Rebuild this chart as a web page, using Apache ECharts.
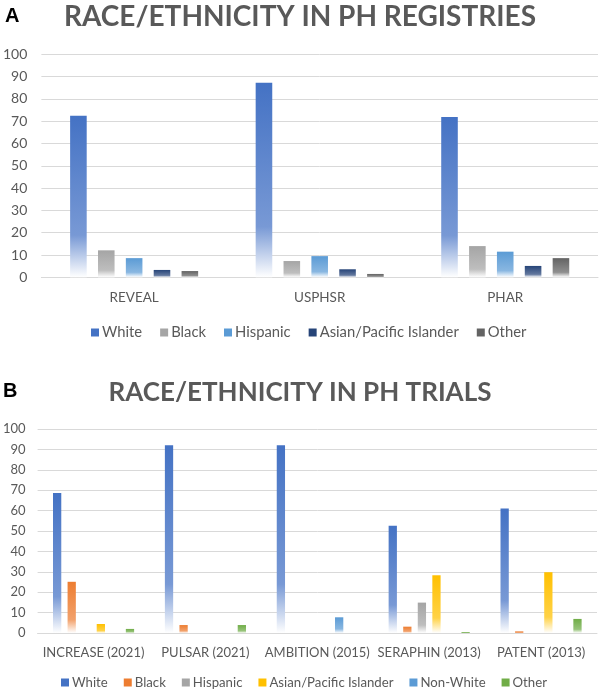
<!DOCTYPE html>
<html>
<head>
<meta charset="utf-8">
<script src="https://cdn.jsdelivr.net/npm/echarts@6/dist/echarts.min.js"></script>
<style>
html,body{margin:0;padding:0;background:#fff;}
#chart{width:600px;height:693px;}
</style>
</head>
<body>
<div id="chart"></div>
<script>
// ---- Panel A: registries ----
var regCategories = ['REVEAL', 'USPHSR', 'PHAR'];
var regWhite = [72.5, 87.3, 71.9];
var regBlack = [12.1, 7.3, 14.0];
var regHispanic = [8.6, 9.5, 11.5];
var regAsian = [3.3, 3.6, 5.1];
var regOther = [2.8, 1.5, 8.6];
var regNames = ['White', 'Black', 'Hispanic', 'Asian/Pacific Islander', 'Other'];
var regColors = ['#4472C4', '#A5A5A5', '#5B9BD5', '#264478', '#636363'];

// ---- Panel B: trials ----
var trialCategories = ['INCREASE (2021)', 'PULSAR (2021)', 'AMBITION (2015)', 'SERAPHIN (2013)', 'PATENT (2013)'];
var trialWhite = [68.6, 92, 92, 52.6, 61];
var trialBlack = [25.1, 3.9, null, 3.1, 0.8];
var trialHispanic = [null, null, null, 14.9, null];
var trialAsian = [4.4, null, null, 28.3, 29.8];
var trialNonWhite = [null, null, 7.7, null, null];
var trialOther = [2.0, 3.9, null, 0.5, 6.9];
var trialNames = ['White', 'Black', 'Hispanic', 'Asian/Pacific Islander', 'Non-White', 'Other'];
var trialColors = ['#4472C4', '#ED7D31', '#A5A5A5', '#FFC000', '#5B9BD5', '#70AD47'];

var yTicks = [0, 100, 10]; // min, max, interval

var FONT = 'Lato, Carlito, "Noto Sans", sans-serif';
var TXT = '#595959';
var GRID = '#D9D9D9';

function mix(hex, t) {
  var r = parseInt(hex.substr(1,2),16), g = parseInt(hex.substr(3,2),16), b = parseInt(hex.substr(5,2),16);
  r = Math.round(r + (255-r)*t); g = Math.round(g + (255-g)*t); b = Math.round(b + (255-b)*t);
  return 'rgb(' + r + ',' + g + ',' + b + ')';
}
function grad(c) {
  return {type:'linear', x:0, y:0, x2:0, y2:1, colorStops:[
    {offset:0, color:c},
    {offset:0.74, color:mix(c, 0.28)},
    {offset:1, color:'#ffffff'}
  ]};
}

var regData = [regWhite, regBlack, regHispanic, regAsian, regOther];
var trialData = [trialWhite, trialBlack, trialHispanic, trialAsian, trialNonWhite, trialOther];

var series = [];
regNames.forEach(function(n, i){
  series.push({type:'bar', name:n, xAxisIndex:0, yAxisIndex:0, data:regData[i],
    barGap:'68%', barCategoryGap:'31%',
    itemStyle:{color:grad(regColors[i])}, emphasis:{disabled:true}});
});
trialNames.forEach(function(n, i){
  series.push({type:'bar', name:n, xAxisIndex:1, yAxisIndex:1, data:trialData[i],
    barGap:'76%', barCategoryGap:'27.5%',
    itemStyle:{color:grad(trialColors[i])}, emphasis:{disabled:true}});
});

function yAxis(gi, fs, margin) {
  return {type:'value', gridIndex:gi, min:yTicks[0], max:yTicks[1], interval:yTicks[2],
    axisLine:{show:false}, axisTick:{show:false},
    axisLabel:{color:TXT, fontFamily:FONT, fontSize:fs, margin:margin},
    splitLine:{lineStyle:{color:GRID, width:1}}};
}
function xAxis(gi, cats, fs) {
  return {type:'category', gridIndex:gi, data:cats,
    axisLine:{lineStyle:{color:GRID, width:1}}, axisTick:{show:false},
    axisLabel:{color:TXT, fontFamily:FONT, fontSize:fs, margin:13, interval:0}};
}

var option = {
  animation:false,
  backgroundColor:'#ffffff',
  title:[
    {text:'RACE/ETHNICITY IN PH REGISTRIES', left:'center', top:2, padding:0,
     textStyle:{fontFamily:FONT, fontWeight:'bold', fontSize:28, color:TXT, lineHeight:30}},
    {text:'RACE/ETHNICITY IN PH TRIALS', left:'center', top:378, padding:0,
     textStyle:{fontFamily:FONT, fontWeight:'bold', fontSize:26, color:TXT, lineHeight:30}},
    {text:'A', left:5, top:5, padding:0,
     textStyle:{fontFamily:'"Liberation Sans", Arial, sans-serif', fontWeight:'bold', fontSize:20, color:'#000', lineHeight:22}},
    {text:'B', left:3, top:380, padding:0,
     textStyle:{fontFamily:'"Liberation Sans", Arial, sans-serif', fontWeight:'bold', fontSize:20, color:'#000', lineHeight:22}}
  ],
  legend:[
    {left:91, top:325, itemWidth:8, itemHeight:8, itemGap:18, icon:'rect', padding:0,
     selectedMode:false,
     textStyle:{fontFamily:FONT, fontSize:14.8, color:TXT, padding:[0,0,0,-2]},
     data:regNames.map(function(n,i){return {name:n, itemStyle:{color:regColors[i]}};})},
    {left:61, top:676, itemWidth:8, itemHeight:8, itemGap:16, icon:'rect', padding:0,
     selectedMode:false,
     textStyle:{fontFamily:FONT, fontSize:13.2, color:TXT, padding:[0,0,0,-2]},
     data:trialNames.map(function(n,i){return {name:n, itemStyle:{color:trialColors[i]}};})}
  ],
  grid:[
    {left:39, right:2, top:54.4, bottom:415.7, containLabel:false},
    {left:35, right:3, top:429, bottom:60, containLabel:false}
  ],
  xAxis:[xAxis(0, regCategories, 13.5), xAxis(1, trialCategories, 13)],
  yAxis:[yAxis(0, 14, 14), yAxis(1, 13, 12)],
  series:series
};

var chart = echarts.init(document.getElementById('chart'), null, {renderer:'canvas'});
chart.setOption(option);
</script>
</body>
</html>
